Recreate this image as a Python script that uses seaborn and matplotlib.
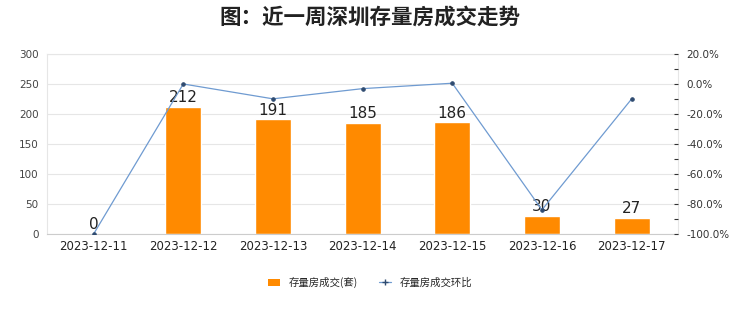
import matplotlib
matplotlib.use("Agg")
import matplotlib.pyplot as plt
import seaborn as sns
import pandas as pd
from matplotlib.ticker import FuncFormatter, MultipleLocator
from matplotlib.lines import Line2D
from matplotlib.patches import Patch

dates = ['2023-12-11', '2023-12-12', '2023-12-13', '2023-12-14',
         '2023-12-15', '2023-12-16', '2023-12-17']
deals = [0, 212, 191, 185, 186, 30, 27]
mom_pct = [-100.0, 0.0, -9.9, -3.1, 0.5, -83.9, -10.0]

sns.set_style("white")
plt.rcParams['font.family'] = ['DejaVu Sans', 'Noto Sans CJK SC']

df = pd.DataFrame({'date': dates, 'deals': deals, 'mom': mom_pct})

fig = plt.figure(figsize=(7.4, 3.12), dpi=100)
ax = fig.add_axes([0.0635, 0.25, 0.853, 0.577])

sns.barplot(data=df, x='date', y='deals', color='#FF8A00', width=0.4,
            saturation=1, ax=ax, zorder=2)
for i, v in enumerate(deals):
    ax.text(i, v + 3, str(v), ha='center', va='bottom', fontsize=11, color='#222222', zorder=5)

ax.set_ylim(0, 300)
ax.set_yticks(range(0, 301, 50))
ax.yaxis.grid(True, color='#E6E6E6', linewidth=0.8, zorder=0)
ax.set_xlabel('')
ax.set_ylabel('')
ax.tick_params(axis='y', length=0, labelsize=7.5, colors='#444444', pad=6)
ax.tick_params(axis='x', length=0, labelsize=8.5, colors='#222222', pad=4)
for side in ['left', 'right', 'top']:
    ax.spines[side].set_color('#E6E6E6')
ax.spines['bottom'].set_color('#CCCCCC')

ax2 = ax.twinx()
sns.lineplot(x=range(len(dates)), y=mom_pct, ax=ax2, color='#6F9BD1', linewidth=0.9,
             marker='o', markersize=2.5, markerfacecolor='#2F4B70', markeredgecolor='#2F4B70')
ax2.set_ylim(-100, 20)
ax2.yaxis.set_major_locator(MultipleLocator(20))
ax2.yaxis.set_minor_locator(MultipleLocator(10))
ax2.yaxis.set_major_formatter(FuncFormatter(lambda v, p: f'{v:.1f}%'))
ax2.tick_params(axis='y', which='major', direction='in', length=3, width=0.8,
                labelsize=7.5, colors='#333333', pad=6)
ax2.tick_params(axis='y', which='minor', direction='in', length=3, width=0.8, colors='#333333')
for side in ['left', 'right', 'top', 'bottom']:
    ax2.spines[side].set_visible(False)
ax2.set_ylabel('')

fig.text(0.5, 0.945, '图：近一周深圳存量房成交走势', ha='center', va='center',
         fontsize=15.5, fontweight='bold', color='#222222',
         family=['Noto Sans CJK SC', 'DejaVu Sans'])

handles = [Patch(facecolor='#FF8A00', edgecolor='none'),
           Line2D([0], [0], color='#6F9BD1', linewidth=0.9, marker='+', markersize=4,
                  markeredgecolor='#2F4B70')]
fig.legend(handles, ['存量房成交(套)', '存量房成交环比'], loc='center', ncol=2,
           bbox_to_anchor=(0.5, 0.095), frameon=False,
           prop={'family': ['Noto Sans CJK SC', 'DejaVu Sans'], 'size': 7.5},
           handlelength=1.2, handleheight=0.7, columnspacing=2.0)

fig.savefig('out.png', dpi=100)
